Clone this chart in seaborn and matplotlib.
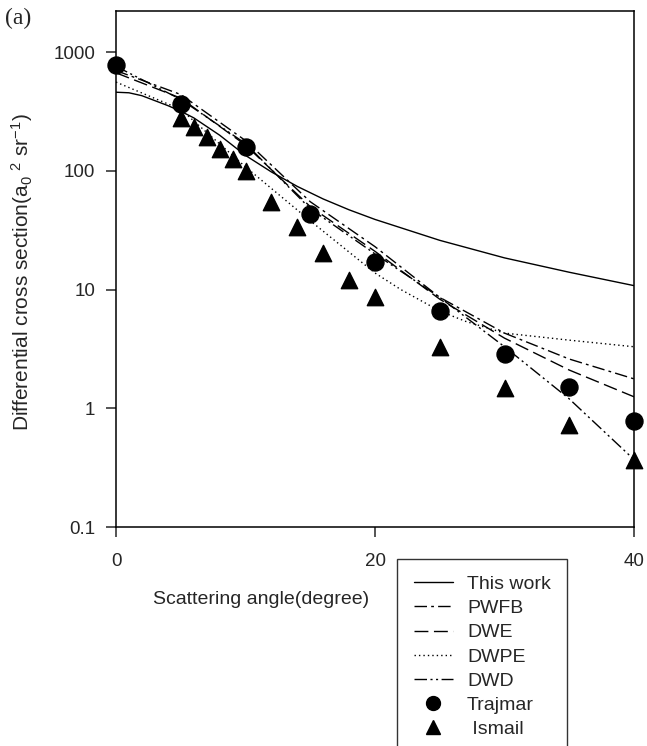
import numpy as np
import pandas as pd
import matplotlib
matplotlib.use("Agg")
import matplotlib.pyplot as plt
import seaborn as sns
from matplotlib.lines import Line2D

# ---- data ----
this_angle = [0, 1, 2, 4, 5, 6, 8, 10, 12, 14, 16, 18, 20, 25, 30, 35, 40]
this_dcs = [460, 455, 430, 355, 318, 280, 200, 135, 98, 74, 58, 47, 39, 26, 18.5, 14, 10.8]

theo_angle = [0, 5, 10, 15, 20, 25, 30, 35, 40]
pwfb_dcs = [700, 440, 180, 55, 23, 8.6, 4.3, 2.6, 1.77]
dwe_dcs = [670, 410, 165, 50, 21, 8.3, 3.9, 2.1, 1.25]
dwd_dcs = [760, 400, 170, 48, 20, 8.6, 3.3, 1.2, 0.37]

dwpe_angle = [0, 5, 10, 15, 20, 22, 25, 27, 30, 35, 40]
dwpe_dcs = [560, 330, 108, 38, 13.8, 10, 6.6, 5.4, 4.3, 3.75, 3.3]

trajmar_angle = [0, 5, 10, 15, 20, 25, 30, 35, 40]
trajmar_dcs = [780, 366, 159, 43, 17.1, 6.6, 2.87, 1.51, 0.78]

ismail_angle = [5, 6, 7, 8, 9, 10, 12, 14, 16, 18, 20, 25, 30, 35, 40]
ismail_dcs = [279, 234, 193, 153, 126, 100, 55, 33.7, 20.3, 12.0, 8.66, 3.28, 1.48, 0.72, 0.37]

xticks = [0, 20, 40]
yticks = [0.1, 1, 10, 100, 1000]
ytick_labels = ["0.1", "1", "10", "100", "1000"]

# ---- style ----
sns.set_style("ticks")
plt.rcParams["font.family"] = ["Liberation Sans", "DejaVu Sans"]
plt.rcParams["mathtext.fontset"] = "custom"
plt.rcParams["mathtext.rm"] = "Liberation Sans"
plt.rcParams["mathtext.it"] = "Liberation Sans"
plt.rcParams["axes.linewidth"] = 1.1

fig = plt.figure(figsize=(6.47, 7.46), dpi=100)
ax = fig.add_axes([116 / 647, 1 - 527 / 746, (634 - 116) / 647, (527 - 11) / 746])

lw = 1.0
series = [
    ("This work", this_angle, this_dcs, "-"),
    ("PWFB", theo_angle, pwfb_dcs, (0, (9, 3, 2, 3))),
    ("DWE", theo_angle, dwe_dcs, (0, (10, 4))),
    ("DWPE", dwpe_angle, dwpe_dcs, (0, (1, 2.2))),
    ("DWD", theo_angle, dwd_dcs, (0, (9, 2.5, 1.5, 2.5, 1.5, 2.5))),
]
handles = []
for name, xs, ys, ls in series:
    df = pd.DataFrame({"angle": xs, "dcs": ys})
    sns.lineplot(data=df, x="angle", y="dcs", ax=ax, color="black", lw=lw,
                 linestyle=ls, estimator=None, sort=False)
    handles.append(Line2D([], [], color="black", lw=lw, linestyle=ls, label=name))

df_t = pd.DataFrame({"angle": trajmar_angle, "dcs": trajmar_dcs})
sns.scatterplot(data=df_t, x="angle", y="dcs", ax=ax, marker="o", s=150,
                color="black", edgecolor="black", zorder=5, clip_on=False)
df_i = pd.DataFrame({"angle": ismail_angle, "dcs": ismail_dcs})
sns.scatterplot(data=df_i, x="angle", y="dcs", ax=ax, marker="^", s=140,
                color="black", edgecolor="black", zorder=5, clip_on=False)
handles.append(Line2D([], [], color="black", marker="o", ls="none", markersize=10, label="Trajmar"))
handles.append(Line2D([], [], color="black", marker="^", ls="none", markersize=10, label=" Ismail"))

ax.set_yscale("log")
ax.set_xlim(0, 40)
ax.set_ylim(0.1, 10 ** 3.347)
ax.set_xticks(xticks)
ax.set_xticklabels([str(t) for t in xticks])
ax.set_yticks(yticks)
ax.set_yticklabels(ytick_labels)
ax.yaxis.set_minor_locator(matplotlib.ticker.NullLocator())
ax.tick_params(axis="both", which="major", length=7, width=1.1, labelsize=13.5,
               direction="out", pad=8)
ax.tick_params(axis="x", pad=12)
for sp in ax.spines.values():
    sp.set_visible(True)
    sp.set_color("black")

ax.set_xlabel("Scattering angle(degree)", fontsize=14)
ax.xaxis.set_label_coords(0.28, -0.125)
ax.set_ylabel("Differential cross section(a$_0$ $^{2}$ sr$^{-1}$)", fontsize=15)
ax.yaxis.set_label_coords(-0.156, 0.494)

fig.text(5 / 647, 1 - 18 / 746, "(a)", family=["Liberation Serif"], fontsize=17,
         va="center", ha="left")

leg = fig.legend(handles=handles, loc="upper left",
                 bbox_to_anchor=(397 / 647, 1 - 559 / 746), fontsize=14,
                 frameon=True, fancybox=False, edgecolor="black",
                 handlelength=2.05, handletextpad=0.7, labelspacing=0.335,
                 borderpad=0.85, borderaxespad=0)
leg.get_frame().set_linewidth(1.0)

fig.savefig("out.png", dpi=100)
